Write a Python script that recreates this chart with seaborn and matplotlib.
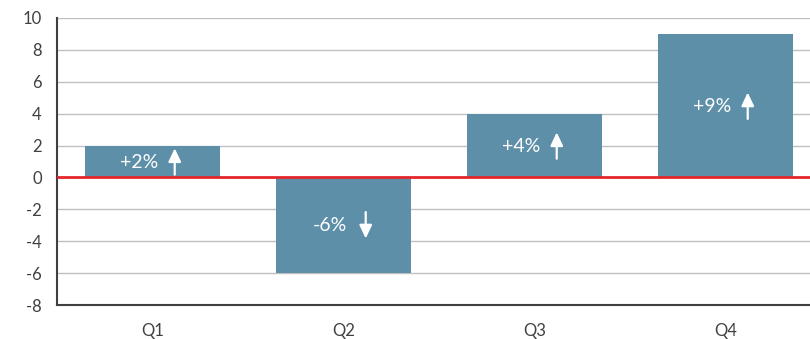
"""
Quarterly change bar chart with red zero line and arrow labels
"""

import matplotlib
matplotlib.use('Agg')
import matplotlib.pyplot as plt
import matplotlib.transforms as mtransforms
import seaborn as sns

quarters = ['Q1', 'Q2', 'Q3', 'Q4']
changes = [2, -6, 4, 9]
y_ticks = [-8, -6, -4, -2, 0, 2, 4, 6, 8, 10]

sns.set_style("white")
plt.rcParams['font.family'] = ['Lato', 'DejaVu Sans']

fig = plt.figure(figsize=(8.1, 3.39), dpi=100, facecolor='white')
ax = fig.add_axes([57 / 810, 1 - 305 / 339, 764 / 810, (305 - 18) / 339])

sns.barplot(x=quarters, y=changes, color='#5E8FA8', saturation=1, width=0.71,
            linewidth=0, ax=ax, zorder=3)

ax.set_ylim(-8, 10)
ax.set_xlim(-0.5, 3.5)
ax.set_yticks(y_ticks)
ax.set_yticklabels([str(t) for t in y_ticks], fontsize=12, color='#404040')
ax.set_xticklabels(quarters, fontsize=12, color='#404040')
ax.set_xlabel('')
ax.set_ylabel('')

for t in y_ticks:
    if t != 0 and t != -8:
        ax.axhline(t, color='#C0C0C0', linewidth=1.0, zorder=1)
ax.axhline(0, color='#E3262B', linewidth=2.0, zorder=4)

for side in ['top', 'right']:
    ax.spines[side].set_visible(False)
for side in ['left', 'bottom']:
    ax.spines[side].set_color('#404040')
    ax.spines[side].set_linewidth(1.5)

ax.tick_params(axis='y', length=4, width=1.2, color='#404040', pad=7, direction='out')
ax.tick_params(axis='x', length=0, pad=13)

for i, v in enumerate(changes):
    mid = v / 2
    ax.annotate(f'{v:+d}%', (i, mid), xytext=(-9.5, -0.5), textcoords='offset points',
                ha='center', va='center', color='white', fontsize=14, zorder=5)
    sign = 1 if v > 0 else -1
    tail = mtransforms.offset_copy(ax.transData, fig, x=16, y=-9.5 * sign, units='points')
    tip = mtransforms.offset_copy(ax.transData, fig, x=16, y=9.5 * sign, units='points')
    ax.annotate('', xy=(i, mid), xycoords=tip, xytext=(i, mid), textcoords=tail,
                arrowprops=dict(arrowstyle='-|>,head_length=8,head_width=3.8',
                                mutation_scale=1, color='white', lw=1.6,
                                shrinkA=0, shrinkB=0),
                zorder=5)

fig.savefig('out.png', dpi=100, facecolor='white')
plt.close(fig)
